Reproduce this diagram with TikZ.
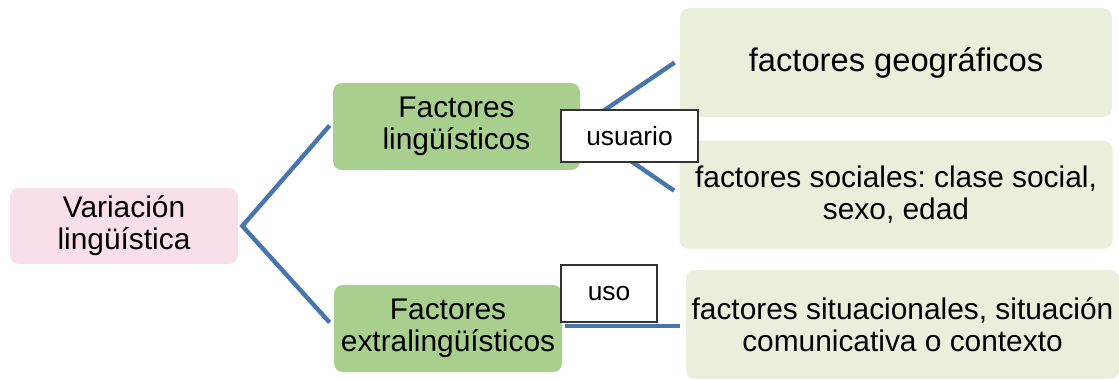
\documentclass[tikz,border=0pt]{standalone}
\usepackage{fontspec}
\setmainfont{Liberation Sans}
\usetikzlibrary{positioning,calc}
\definecolor{boxpink}{RGB}{249,223,236}
\definecolor{boxgreen}{RGB}{169,207,142}
\definecolor{boxpale}{RGB}{234,239,220}
\definecolor{linkblue}{RGB}{72,118,172}
\frenchspacing

\begin{document}
\begin{tikzpicture}[
  box/.style={rectangle, rounded corners=5pt, align=center, inner sep=2pt,
              font=\fontsize{17}{18.3}\selectfont},
  tag/.style={rectangle, draw=black!80, line width=0.8pt, fill=white,
              font=\fontsize{15}{17}\selectfont},
  link/.style={draw=linkblue, line width=2.5pt}
]
\useasboundingbox (0,0) rectangle (22.38,-7.6);

\node[box, fill=boxpink, minimum width=4.56cm, minimum height=1.52cm] (var) at (2.48,-4.52)
  {Variación\\lingüística};

\node[box, fill=boxgreen, minimum width=4.94cm, minimum height=1.74cm] (ling) at (9.13,-2.53)
  {Factores\\lingüísticos};

\node[box, fill=boxgreen, minimum width=4.56cm, minimum height=1.74cm] (extra) at (8.96,-6.57)
  {Factores\\extralingüísticos};

\node[box, fill=boxpale, minimum width=8.64cm, minimum height=2.18cm,
      font=\fontsize{18.6}{20}\selectfont] (geo) at (17.92,-1.25)
  {factores geográficos};

\node[box, fill=boxpale, minimum width=8.66cm, minimum height=2.16cm, below=0.46cm of geo] (soc)
  {factores sociales: clase social,\\sexo, edad};

\node[box, fill=boxpale, minimum width=8.66cm, minimum height=2.18cm] (sit) at (18.05,-6.49)
  {factores situacionales, situación\\comunicativa o contexto};

\coordinate[right=0.08cm of var] (fork);

\draw[link] ($(ling.west)+(-0.06,0.02)$) -- (fork) -- ($(extra.west)+(-0.08,0.12)$);
\draw[link] (ling.east) -- ($(geo.west)+(-0.1,0)$);
\draw[link] (ling.east) -- ($(soc.west)+(-0.1,0.08)$);
\draw[link] ($(extra.east)+(0.06,0.05)$) -- ($(extra.east -| sit.west)+(-0.12,0.05)$);

\node[tag, minimum width=2.74cm, minimum height=1.04cm] (usuario) at (12.59,-2.72) {usuario};
\node[tag, minimum width=1.92cm, minimum height=1.14cm] (uso) at (12.18,-5.87) {uso};

\end{tikzpicture}
\end{document}
